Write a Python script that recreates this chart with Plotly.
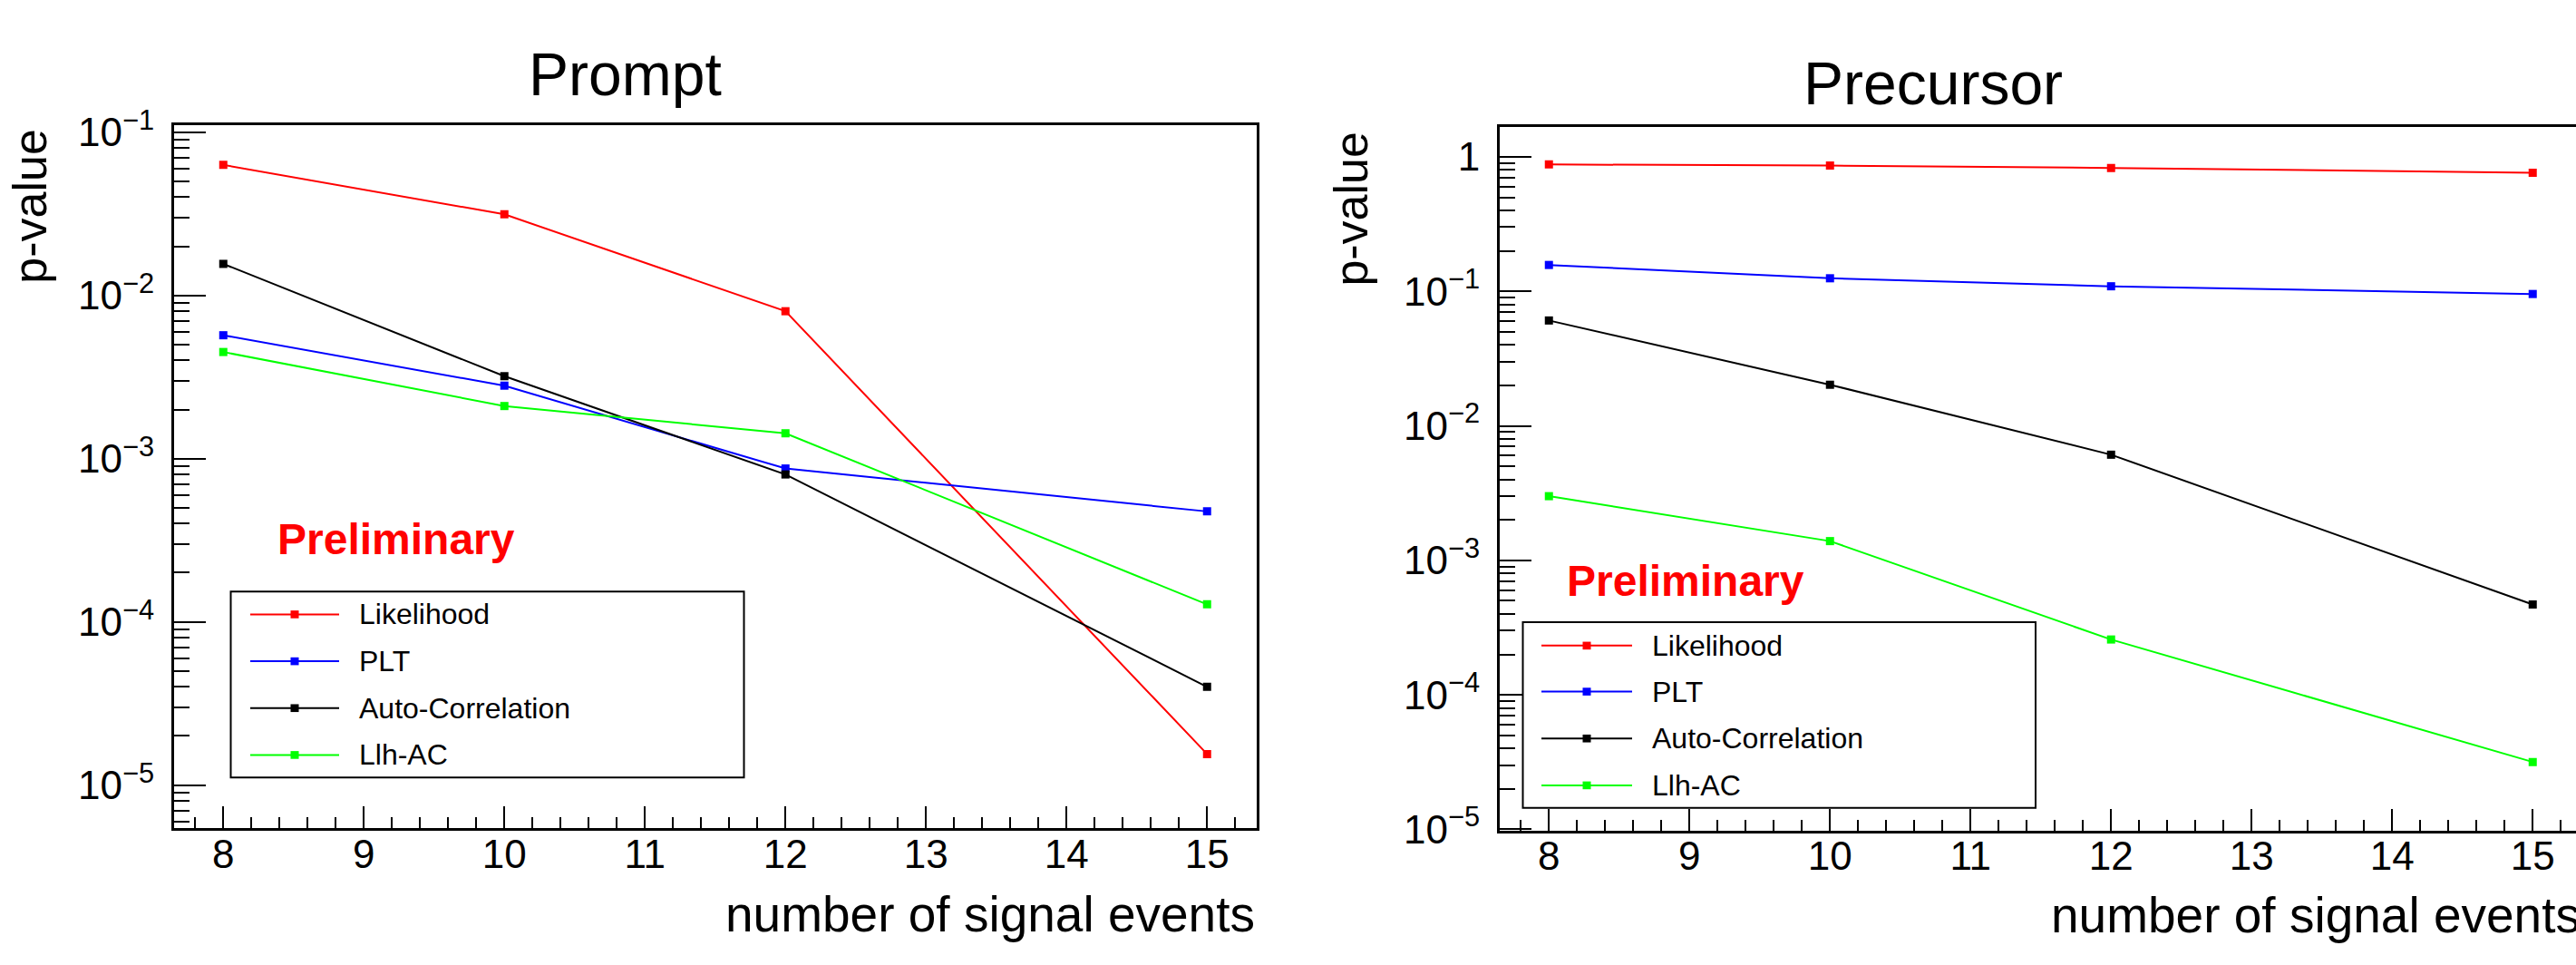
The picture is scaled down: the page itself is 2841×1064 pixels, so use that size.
import plotly.graph_objects as go

# ---------------- data ----------------
n_signal = [8, 10, 12, 15]
series_names = ["Likelihood", "PLT", "Auto-Correlation", "Llh-AC"]
series_colors = ["#ff0000", "#0000ff", "#000000", "#00ff00"]

prompt_likelihood = [0.063, 0.0314, 0.0080, 1.55e-5]
prompt_plt = [0.0057, 0.0028, 8.7e-4, 4.75e-4]
prompt_autocorr = [0.0156, 0.0032, 8.0e-4, 4.0e-5]
prompt_llh_ac = [0.0045, 0.0021, 1.43e-3, 1.28e-4]

precursor_likelihood = [0.877, 0.86, 0.826, 0.762]
precursor_plt = [0.157, 0.125, 0.109, 0.0955]
precursor_autocorr = [0.0607, 0.0202, 0.0061, 4.7e-4]
precursor_llh_ac = [0.0030, 0.00139, 2.58e-4, 3.17e-5]

x_tick_labels = ["8", "9", "10", "11", "12", "13", "14", "15"]
prompt_y_ticktext = ["10<sup>\u22125</sup>", "10<sup>\u22124</sup>", "10<sup>\u22123</sup>",
                     "10<sup>\u22122</sup>", "10<sup>\u22121</sup>"]
precursor_y_ticktext = ["10<sup>\u22125</sup>", "10<sup>\u22124</sup>", "10<sup>\u22123</sup>",
                        "10<sup>\u22122</sup>", "10<sup>\u22121</sup>", "1"]

panel_titles = ["Prompt", "Precursor"]
x_title = "number of signal events"
y_title = "p-value"
watermark = "Preliminary"

# ---------------- layout helpers ----------------
W, H = 2841, 1064
FONT = "Liberation Sans, Arial, Helvetica, sans-serif"


def px(x):
    return x / W


def py(y):
    return 1 - y / H


prompt_series = [prompt_likelihood, prompt_plt, prompt_autocorr, prompt_llh_ac]
precursor_series = [precursor_likelihood, precursor_plt, precursor_autocorr, precursor_llh_ac]

fig = go.Figure()

for vals, name, col in zip(prompt_series, series_names, series_colors):
    fig.add_trace(go.Scatter(x=n_signal, y=vals, name=name, mode="lines+markers",
                             line=dict(color=col, width=2),
                             marker=dict(symbol="square", size=9, color=col),
                             xaxis="x", yaxis="y", showlegend=False))
for vals, name, col in zip(precursor_series, series_names, series_colors):
    fig.add_trace(go.Scatter(x=n_signal, y=vals, name=name, mode="lines+markers",
                             line=dict(color=col, width=2),
                             marker=dict(symbol="square", size=9, color=col),
                             xaxis="x2", yaxis="y2", showlegend=False))

x_ticks = [int(t) for t in x_tick_labels]
x_minor = [round(7.0 + 0.2 * i, 1) for i in range(50)]
x_minor = [v for v in x_minor if abs(v - round(v)) > 1e-6]


def log_minor(emin, emax):
    out = []
    for e in range(emin, emax + 1):
        for m in range(2, 10):
            out.append(m * 10.0 ** e)
    return out


def xaxis_cfg(domain, rng, mirror):
    return dict(domain=domain, range=rng, showline=True, linecolor="black", linewidth=3,
                mirror=mirror, ticks="inside", ticklen=24, tickwidth=2, tickcolor="black",
                tickmode="array", tickvals=x_ticks, ticktext=x_tick_labels,
                tickfont=dict(family=FONT, size=44, color="black"),
                ticklabelstandoff=-12,
                showgrid=False, zeroline=False,
                minor=dict(tickmode="array", tickvals=x_minor, ticks="inside", ticklen=12,
                           tickwidth=2, tickcolor="black", showgrid=False))


def yaxis_cfg(domain, rng, anchor, tickvals, ticktext, mirror):
    return dict(domain=domain, range=rng, type="log", anchor=anchor, showline=True,
                linecolor="black", linewidth=3, mirror=mirror, ticks="inside", ticklen=35,
                tickwidth=2, tickcolor="black", tickmode="array", tickvals=tickvals,
                ticktext=ticktext, tickfont=dict(family=FONT, size=44, color="black"),
                ticklabelstandoff=10,
                showgrid=False, zeroline=False,
                minor=dict(tickmode="array", tickvals=log_minor(-7, 1), ticks="inside",
                           ticklen=17, tickwidth=2, tickcolor="black", showgrid=False))


fig.update_layout(
    width=W, height=H,
    margin=dict(l=0, r=0, t=0, b=0),
    paper_bgcolor="white", plot_bgcolor="white",
    font=dict(family=FONT, color="black"),
    showlegend=False,
    xaxis=xaxis_cfg([px(192), px(1385.5)], [7.65, 15.35], True),
    yaxis=yaxis_cfg([py(930), py(120)], [-5.262, -0.956], "x",
                    [1e-5, 1e-4, 1e-3, 1e-2, 1e-1], prompt_y_ticktext, True),
    xaxis2=xaxis_cfg([px(1654), 1.0], [7.65, 7.65 + (2841 - 1654) / 155.0], True),
    yaxis2=yaxis_cfg([py(933), py(122.7)], [-5.008, 0.219], "x2",
                     [1e-5, 1e-4, 1e-3, 1e-2, 1e-1, 1], precursor_y_ticktext, False),
)
fig.layout.xaxis2.anchor = "y2"
fig.layout.xaxis.anchor = "y"

shapes = []
annotations = []


def add_legend(box, ys, lx0, lx1, mx, tx):
    x0, y0, x1, y1 = box
    shapes.append(dict(type="rect", xref="paper", yref="paper", x0=px(x0), x1=px(x1),
                       y0=py(y1), y1=py(y0), line=dict(color="black", width=2),
                       fillcolor="white", layer="above"))
    for yy, name, col in zip(ys, series_names, series_colors):
        shapes.append(dict(type="line", xref="paper", yref="paper", x0=px(lx0), x1=px(lx1),
                           y0=py(yy), y1=py(yy), line=dict(color=col, width=2)))
        shapes.append(dict(type="rect", xref="paper", yref="paper", x0=px(mx - 4.5),
                           x1=px(mx + 4.5), y0=py(yy + 4.5), y1=py(yy - 4.5),
                           line=dict(width=0), fillcolor=col))
        annotations.append(dict(text=name, xref="paper", yref="paper", x=px(tx), y=py(yy),
                                xanchor="left", yanchor="middle", showarrow=False,
                                font=dict(family=FONT, size=32, color="black")))


add_legend((254.5, 657.7, 820.5, 872), [684, 738, 792, 846], 276, 374, 325, 394)
add_legend((1679.5, 693, 2245, 907), [720, 773, 827, 881], 1700, 1800, 1750, 1820)


def add_text(text, x, y, size, xanchor="center", angle=0, color="black"):
    annotations.append(dict(text=text, xref="paper", yref="paper", x=px(x), y=py(y),
                            xanchor=xanchor, yanchor="middle", showarrow=False,
                            textangle=angle, font=dict(family=FONT, size=size, color=color)))


add_text(panel_titles[0], 689.5, 62, 66)
add_text(panel_titles[1], 2132, 72, 66)
add_text(x_title, 1385.5, 1029, 55, xanchor="right")
add_text(x_title, 2847.5, 1031, 55, xanchor="right")
add_text(y_title, 33, 214, 52, angle=-90)
add_text(y_title, 1490, 217, 52, angle=-90)
add_text("<b>" + watermark + "</b>", 436.5, 597, 48, color="#ff0000")
add_text("<b>" + watermark + "</b>", 1859, 645, 48, color="#ff0000")

fig.update_layout(shapes=shapes, annotations=annotations)

fig.write_html("out.html", config={"displayModeBar": False},
               post_script="document.body.style.margin='0';document.body.style.overflow='hidden';")
